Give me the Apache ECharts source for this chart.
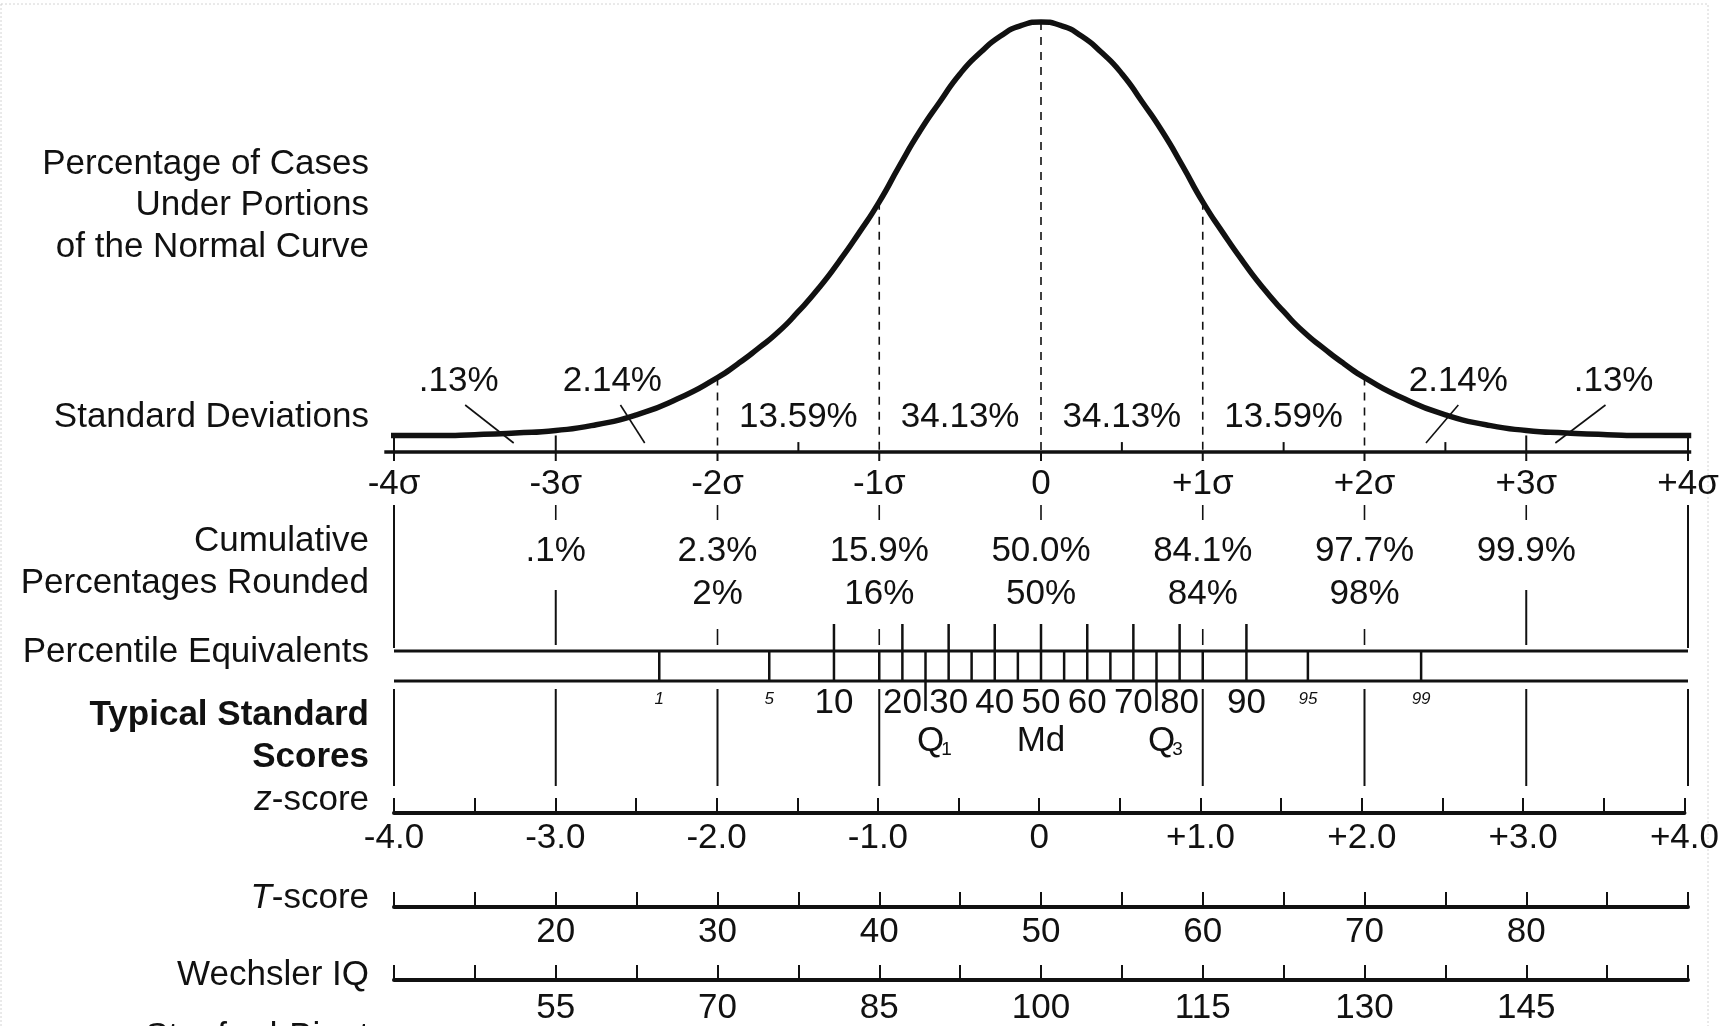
<!DOCTYPE html>
<html>
<head>
<meta charset="utf-8">
<title>The Normal Curve</title>
<script src="https://cdn.jsdelivr.net/npm/echarts@6/dist/echarts.min.js"></script>
<style>
  html, body { margin: 0; padding: 0; background: #fff; }
  #chart { width: 1722px; height: 1026px; }
</style>
</head>
<body>
<div id="chart"></div>
<script>
// curve height (% of peak), finer steps near the middle
var curveZ = [-4.06, -4, -3.75, -3.5, -3.25, -3, -2.75, -2.5, -2.25, -2, -1.875, -1.75, -1.625, -1.5, -1.375,
  -1.25, -1.125, -1, -0.875, -0.75, -0.625, -0.5, -0.375, -0.25, -0.125, 0,
  0.125, 0.25, 0.375, 0.5, 0.625, 0.75, 0.875, 1, 1.125, 1.25, 1.375, 1.5, 1.625, 1.75, 1.875,
  2, 2.25, 2.5, 2.75, 3, 3.25, 3.5, 3.75, 4, 4.02]
var curveH = [0, 0, 0, 0.2, 0.6, 1.2, 2.6, 5, 8.8, 14, 17.3, 21, 25, 30, 35.6,
  42, 49, 56.5, 65.2, 73.5, 80.7, 87.5, 92.6, 96.6, 99.1, 100,
  99.1, 96.6, 92.6, 87.5, 80.7, 73.5, 65.2, 56.5, 49, 42, 35.6, 30, 25, 21, 17.3,
  14, 8.8, 5, 2.6, 1.2, 0.6, 0.2, 0, 0, 0]

var sdLabels = ['-4σ', '-3σ', '-2σ', '-1σ', '0', '+1σ', '+2σ', '+3σ', '+4σ']
var sdDashed = [-2, -1, 0, 1, 2]
var sdUpTicks = [-4, -3, 3, 4]
var sdHalfTicks = [-1.5, 0.5, 1.5, 2.5]

var areaZ = [-1.5, -0.5, 0.5, 1.5]
var areaPct = ['13.59%', '34.13%', '34.13%', '13.59%']
var tailZ = [-3.6, -2.65, 2.58, 3.54]
var tailPct = ['.13%', '2.14%', '2.14%', '.13%']
var tailPointerZ = [[-3.56, -3.26], [-2.6, -2.45], [2.58, 2.38], [3.49, 3.18]]

var cumZ = [-3, -2, -1, 0, 1, 2, 3]
var cumExact = ['.1%', '2.3%', '15.9%', '50.0%', '84.1%', '97.7%', '99.9%']
var cumRounded = ['', '2%', '16%', '50%', '84%', '98%', '']

var pctRanks = [1, 5, 10, 15, 20, 25, 30, 35, 40, 45, 50, 55, 60, 65, 70, 75, 80, 85, 90, 95, 99]
var pctZ = [-2.36, -1.68, -1.28, -1, -0.857, -0.714, -0.571, -0.429, -0.286, -0.143, 0,
  0.143, 0.286, 0.429, 0.571, 0.714, 0.857, 1, 1.27, 1.65, 2.35]
var pctSmall = [1, 5, 95, 99]
var quartiles = [{ rank: 25, text: 'Q', sub: '1' }, { rank: 50, text: 'Md', sub: '' }, { rank: 75, text: 'Q', sub: '3' }]

var zLabels = ['-4.0', '-3.0', '-2.0', '-1.0', '0', '+1.0', '+2.0', '+3.0', '+4.0']
var tLabels = ['', '20', '30', '40', '50', '60', '70', '80', '']
var iqLabels = ['', '55', '70', '85', '100', '115', '130', '145', '']

// layout, pixels
var INK = '#111'
var FONT = '"Liberation Sans", Arial, Helvetica, sans-serif'
var FS = 35
var GL = 394
var GR = 34
var Y = {
  sdAxis: 452, tailText: 381, areaText: 417, pointerTop: 405, pointerBottom: 443,
  belowTick: 461, guideTop: 505, guideShort: 520,
  cum1: 551, cum2: 594, sideTop: 590, dashTop: 629, majorTop: 624,
  bandTop: 651, bandBottom: 681, quartileEnd: 711,
  pctText: 703, pctSmall: 699, qText: 741,
  lowTop: 689, lowEnd: 786
}

function font (size, extra) {
  return (extra || '') + ' ' + size + 'px ' + FONT
}

function curveAt (z) {
  return curveH[curveZ.indexOf(z)]
}

// segments: [z1, y1, z2, y2, width, dashed]
var curveSegs = []
sdDashed.forEach(function (z) { curveSegs.push([z, curveAt(z), z, -4, 1.6, 1]) })
sdUpTicks.forEach(function (z) { curveSegs.push([z, 0, z, -4, 2, 0]) })
sdHalfTicks.forEach(function (z) { curveSegs.push([z, -1.6, z, -4, 2, 0]) })

var segs = []
segs.push([-4.06, Y.sdAxis, 4.02, Y.sdAxis, 3.5, 0])
tailPointerZ.forEach(function (p) { segs.push([p[0], Y.pointerTop, p[1], Y.pointerBottom, 1.6, 0]) })
for (var z = -4; z <= 4; z++) {
  segs.push([z, Y.sdAxis, z, Y.belowTick, 2, 0])
  if (Math.abs(z) === 4) {
    segs.push([z, Y.guideTop, z, Y.bandTop - 3, 2, 0])
  } else {
    segs.push([z, Y.guideTop, z, Y.guideShort, 1.6, 0])
  }
  if (Math.abs(z) === 3) segs.push([z, Y.sideTop, z, Y.bandTop - 6, 2, 0])
  if (Math.abs(z) === 1 || Math.abs(z) === 2) segs.push([z, Y.dashTop, z, Y.bandTop - 6, 1.6, 0])
  if (z !== 0) segs.push([z, Y.lowTop, z, Y.lowEnd, 2, 0])
}
segs.push([-4, Y.bandTop, 4, Y.bandTop, 3, 0])
segs.push([-4, Y.bandBottom, 4, Y.bandBottom, 3, 0])
pctRanks.forEach(function (r, i) {
  var z = pctZ[i]
  segs.push([z, Y.bandTop, z, Y.bandBottom, 2.5, 0])
  if (r % 10 === 0) segs.push([z, Y.majorTop, z, Y.bandTop, 2.5, 0])
  if (r === 25 || r === 75) segs.push([z, Y.bandBottom, z, Y.quartileEnd, 2.5, 0])
})

var texts = []
function addText (z, y, text, f, dx, dy) {
  texts.push({ z: z, y: y, text: text, font: f, dx: dx || 0, dy: dy || 0 })
}
areaZ.forEach(function (z, i) { addText(z, Y.areaText, areaPct[i], font(FS)) })
tailZ.forEach(function (z, i) { addText(z, Y.tailText, tailPct[i], font(FS)) })
cumZ.forEach(function (z, i) {
  addText(z, Y.cum1, cumExact[i], font(FS))
  if (cumRounded[i]) addText(z, Y.cum2, cumRounded[i], font(FS))
})
pctRanks.forEach(function (r, i) {
  if (r % 10 === 0) addText(pctZ[i], Y.pctText, String(r), font(FS))
  else if (pctSmall.indexOf(r) >= 0) addText(pctZ[i], Y.pctSmall, String(r), font(17, 'italic'))
})
quartiles.forEach(function (q) {
  var z = pctZ[pctRanks.indexOf(q.rank)]
  if (q.sub) {
    addText(z, Y.qText, q.text, font(FS), 5)
    addText(z, Y.qText, q.sub, font(19), 21, 9)
  } else {
    addText(z, Y.qText, q.text, font(FS))
  }
})

function renderSeg (params, api) {
  var a = api.coord([api.value(0), api.value(1)])
  var b = api.coord([api.value(2), api.value(3)])
  return {
    type: 'line',
    shape: { x1: a[0], y1: a[1], x2: b[0], y2: b[1] },
    style: { stroke: INK, lineWidth: api.value(4), lineDash: api.value(5) ? [8, 7] : null }
  }
}

function renderText (params, api) {
  var t = texts[params.dataIndex]
  var p = api.coord([t.z, t.y])
  return {
    type: 'text',
    x: p[0] + t.dx,
    y: p[1] + t.dy,
    style: { text: t.text, font: t.font, fill: INK, align: 'center', verticalAlign: 'middle' }
  }
}

function scoreAxis (gridIndex, labels, margin) {
  return {
    type: 'value',
    gridIndex: gridIndex,
    min: -4,
    max: 4,
    interval: 0.5,
    position: 'bottom',
    axisLine: { show: true, onZero: false, lineStyle: { color: INK, width: 4 } },
    axisTick: { show: true, inside: true, length: 15, lineStyle: { color: INK, width: 2 } },
    splitLine: { show: false },
    axisLabel: {
      margin: margin,
      color: INK,
      fontSize: FS,
      fontFamily: FONT,
      showMinLabel: true,
      showMaxLabel: true,
      hideOverlap: false,
      formatter: function (v) { return Number.isInteger(v) ? labels[v + 4] : '' }
    }
  }
}

function hiddenY (gridIndex, min, max, inverse) {
  return { type: 'value', gridIndex: gridIndex, min: min, max: max, inverse: !!inverse, show: false, splitLine: { show: false } }
}

function sideLabel (y, text, extra) {
  var el = {
    type: 'text',
    x: 369,
    y: y,
    style: { text: text, fontSize: FS, fontFamily: FONT, fill: INK, align: 'right', verticalAlign: 'middle' }
  }
  if (extra) Object.assign(el.style, extra)
  return el
}

var chart = echarts.init(document.getElementById('chart'), null, { renderer: 'canvas' })
chart.setOption({
  animation: false,
  backgroundColor: '#fff',
  grid: [
    { left: GL, right: GR, top: 22, height: 430 },
    { left: GL, right: GR, top: 0, height: 1026 },
    { left: GL, right: GR, top: 793, height: 20 },
    { left: GL, right: GR, top: 887, height: 20 },
    { left: GL, right: GR, top: 961, height: 20 }
  ],
  xAxis: [
    {
      type: 'value',
      gridIndex: 0,
      min: -4,
      max: 4,
      interval: 1,
      axisLine: { show: false },
      axisTick: { show: false },
      splitLine: { show: false },
      axisLabel: {
        margin: 15,
        color: INK,
        fontSize: FS,
        fontFamily: FONT,
        showMinLabel: true,
        showMaxLabel: true,
        hideOverlap: false,
        formatter: function (v) { return sdLabels[v + 4] }
      }
    },
    { type: 'value', gridIndex: 1, min: -4, max: 4, show: false, splitLine: { show: false } },
    scoreAxis(2, zLabels, 8),
    scoreAxis(3, tLabels, 8),
    scoreAxis(4, iqLabels, 11)
  ],
  yAxis: [
    hiddenY(0, -4, 100),
    hiddenY(1, 0, 1026, true),
    hiddenY(2, 0, 1),
    hiddenY(3, 0, 1),
    hiddenY(4, 0, 1)
  ],
  series: [
    {
      name: 'Normal curve',
      type: 'line',
      xAxisIndex: 0,
      yAxisIndex: 0,
      data: curveZ.map(function (z, i) { return [z, curveH[i]] }),
      smooth: 0.6,
      showSymbol: false,
      clip: false,
      silent: true,
      lineStyle: { color: INK, width: 5.5 }
    },
    {
      type: 'custom',
      xAxisIndex: 0,
      yAxisIndex: 0,
      silent: true,
      renderItem: renderSeg,
      data: curveSegs
    },
    {
      type: 'custom',
      xAxisIndex: 1,
      yAxisIndex: 1,
      silent: true,
      renderItem: renderSeg,
      data: segs
    },
    {
      type: 'custom',
      xAxisIndex: 1,
      yAxisIndex: 1,
      silent: true,
      renderItem: renderText,
      data: texts.map(function (t) { return [t.z, t.y] })
    }
  ],
  graphic: [
    {
      type: 'rect',
      shape: { x: 1, y: 4, width: 1707, height: 1030 },
      style: { fill: null, stroke: '#d4d4d4', lineWidth: 1, lineDash: [2, 2] },
      silent: true
    },
    sideLabel(164, 'Percentage of Cases'),
    sideLabel(205, 'Under Portions'),
    sideLabel(247, 'of the Normal Curve'),
    sideLabel(417, 'Standard Deviations'),
    sideLabel(541, 'Cumulative'),
    sideLabel(583, 'Percentages Rounded'),
    sideLabel(652, 'Percentile Equivalents'),
    sideLabel(715, 'Typical Standard', { fontWeight: 'bold' }),
    sideLabel(757, 'Scores', { fontWeight: 'bold' }),
    sideLabel(800, '{i|z}-score', { rich: { i: { fontStyle: 'italic', fontSize: FS, fontFamily: FONT, fill: INK } } }),
    sideLabel(898, '{i|T}-score', { rich: { i: { fontStyle: 'italic', fontSize: FS, fontFamily: FONT, fill: INK } } }),
    sideLabel(975, 'Wechsler IQ'),
    sideLabel(1037, 'Stanford-Binet')
  ]
})
</script>
</body>
</html>
